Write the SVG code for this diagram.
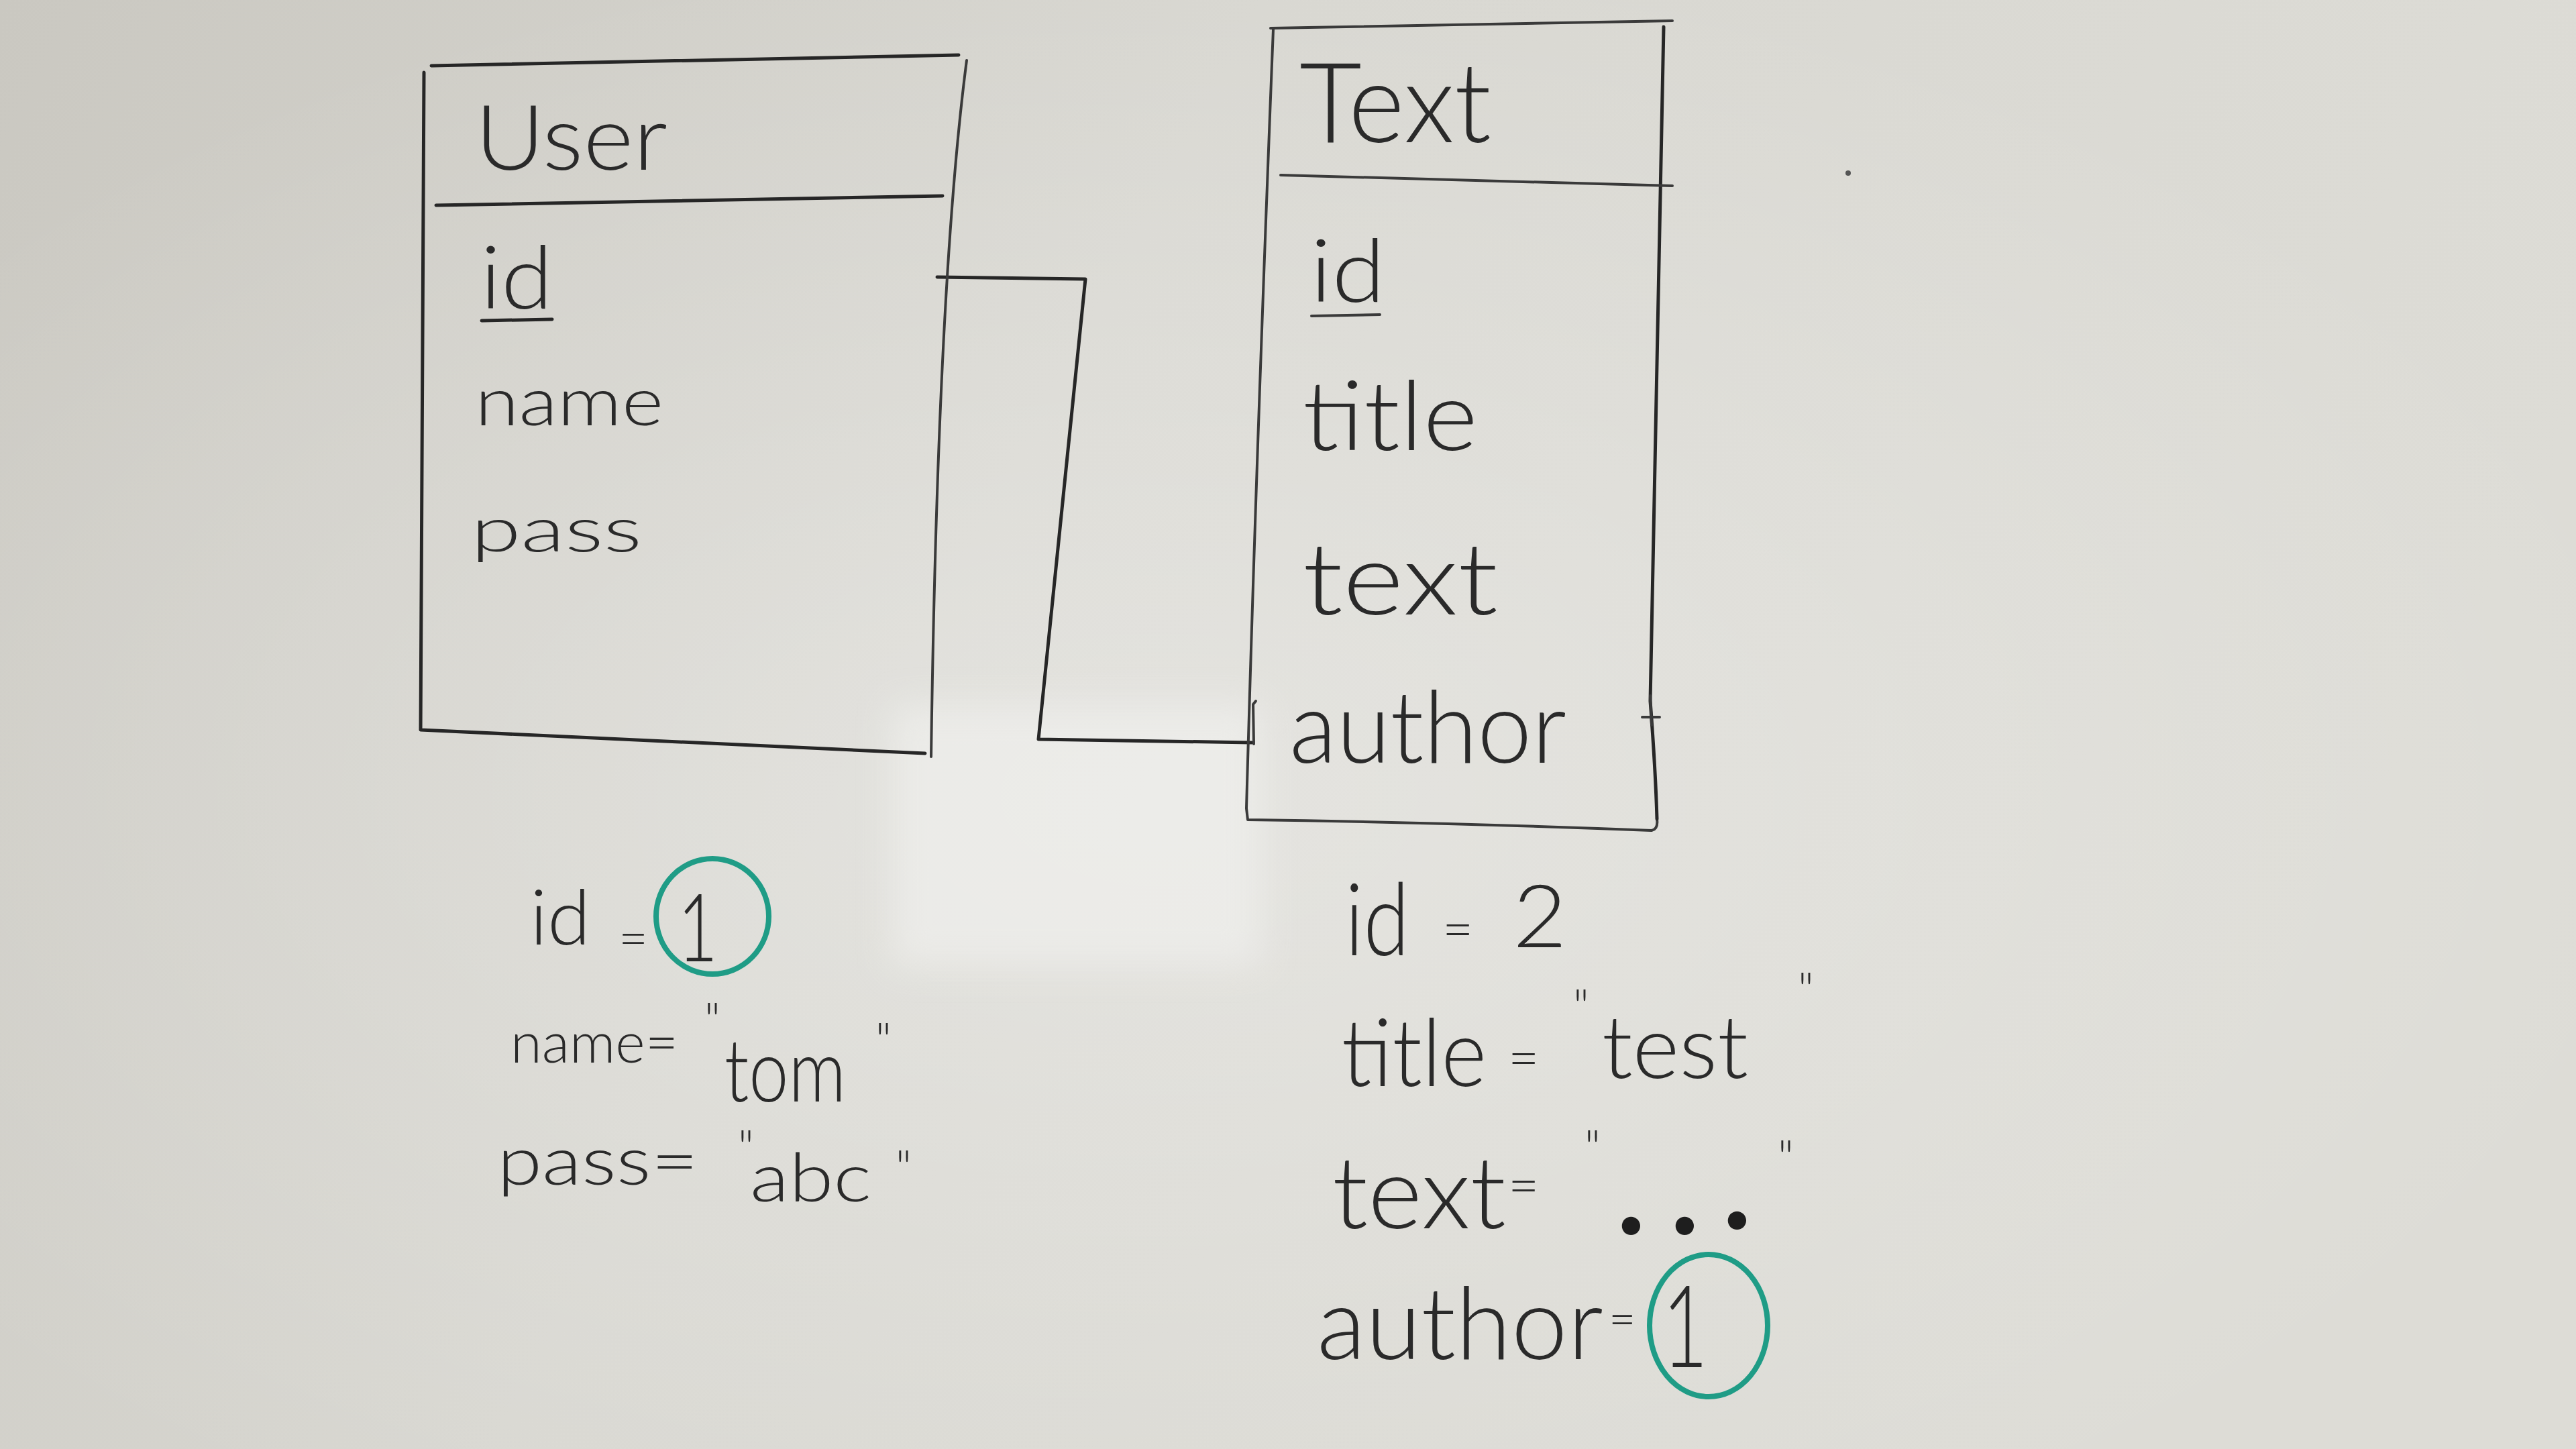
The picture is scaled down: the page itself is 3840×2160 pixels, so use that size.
<svg xmlns="http://www.w3.org/2000/svg" width="3840" height="2160" viewBox="0 0 3840 2160">
<defs>
<linearGradient id="board" x1="0" y1="0" x2="1" y2="0.3">
<stop offset="0" stop-color="#cac8c1"/>
<stop offset="0.45" stop-color="#d8d7d1"/>
<stop offset="1" stop-color="#dddcd6"/>
</linearGradient>
<radialGradient id="glow" cx="0.45" cy="0.55" r="0.6">
<stop offset="0" stop-color="#ffffff" stop-opacity="0.3"/>
<stop offset="1" stop-color="#ffffff" stop-opacity="0"/>
</radialGradient>
<filter id="blur" x="-20%" y="-20%" width="140%" height="140%"><feGaussianBlur stdDeviation="25"/></filter>
<style>
.ink{fill:none;stroke:#262626;stroke-width:5;stroke-linecap:round;stroke-linejoin:round}
.thin{fill:none;stroke:#3a3a3a;stroke-width:4;stroke-linecap:round;stroke-linejoin:round}
.teal{fill:none;stroke:#1f9c86;stroke-width:8}
.h{font-family:Lato,"Open Sans","Liberation Sans",sans-serif;font-weight:300;fill:#2a2a2a}
.q{font-size:70px}
.dot{font-size:180px;font-weight:700;fill:#1e1e1e}
</style>
</defs>
<rect width="3840" height="2160" fill="url(#board)"/>
<rect width="3840" height="2160" fill="url(#glow)"/>
<rect x="1330" y="1050" width="550" height="390" fill="#f2f2f0" opacity="0.6" filter="url(#blur)"/>
<circle cx="2755" cy="258" r="4" fill="#555"/>

<g id="connectors">
<path class="ink" d="M1397,413 L1618,416 L1548,1102 L1866,1107"/>
<path class="thin" d="M1872,1045 L1868,1050 L1869,1109"/>
</g>

<g id="user">
<path class="ink" d="M643,98 L1429,82"/>
<path class="ink" d="M632,108 L627,1088 L1379,1123"/>
<path class="thin" d="M1441,90 Q1398,420 1388,1128"/>
<path class="ink" d="M650,306 L1405,292"/>
<text class="h" x="708" y="253" font-size="135" textLength="287" lengthAdjust="spacingAndGlyphs">User</text>
<text class="h" x="716" y="460" font-size="130" textLength="108" lengthAdjust="spacingAndGlyphs">id</text>
<path class="ink" d="M718,478 L823,476"/>
<text class="h" x="708" y="634" font-size="100" textLength="281" lengthAdjust="spacingAndGlyphs">name</text>
<text class="h" x="702" y="822" font-size="92" textLength="255" lengthAdjust="spacingAndGlyphs">pass</text>
</g>

<g id="text">
<path class="thin" d="M1894,42 L2493,31"/>
<path class="thin" d="M1898,44 Q1872,700 1858,1205 L1860,1222 Q2160,1226 2462,1238 Q2472,1236 2470,1221"/>
<path class="ink" d="M2480,40 L2460,1045 Q2468,1150 2470,1221"/>
<path class="thin" d="M1909,261 L2493,277"/>
<path class="thin" d="M2460,1037 L2462,1081 M2448,1069 L2474,1069"/>
<text class="h" x="1937" y="212" font-size="165" textLength="286" lengthAdjust="spacingAndGlyphs">Text</text>
<text class="h" x="1953" y="450" font-size="130" textLength="112" lengthAdjust="spacingAndGlyphs">id</text>
<path class="thin" d="M1955,471 L2057,469"/>
<text class="h" x="1942" y="671" font-size="145" textLength="261" lengthAdjust="spacingAndGlyphs">title</text>
<text class="h" x="1942" y="916" font-size="150" textLength="291" lengthAdjust="spacingAndGlyphs">text</text>
<text class="h" x="1922" y="1137" font-size="150" textLength="413" lengthAdjust="spacingAndGlyphs">author</text>
</g>

<g id="user-values">
<text class="h" font-size="115"><tspan x="790" y="1408" textLength="90" lengthAdjust="spacingAndGlyphs">id</tspan><tspan x="922" y="1426" font-size="76">=</tspan></text>
<ellipse class="teal" cx="1062" cy="1366" rx="84" ry="86"/>
<text class="h" x="1010" y="1433" font-size="140" textLength="60" lengthAdjust="spacingAndGlyphs">1</text>
<text class="h" font-size="85"><tspan x="761" y="1584" textLength="250" lengthAdjust="spacingAndGlyphs">name=</tspan><tspan class="q" x="1050" y="1545">"</tspan><tspan x="1080" y="1642" font-size="130" textLength="181" lengthAdjust="spacingAndGlyphs">tom</tspan><tspan class="q" x="1305" y="1575">"</tspan></text>
<text class="h" font-size="100"><tspan x="741" y="1766" textLength="300" lengthAdjust="spacingAndGlyphs">pass=</tspan><tspan class="q" x="1100" y="1735">"</tspan><tspan x="1118" y="1791" textLength="181" lengthAdjust="spacingAndGlyphs">abc</tspan><tspan class="q" x="1335" y="1765">"</tspan></text>
</g>

<g id="text-values">
<text class="h" font-size="150"><tspan x="2005" y="1424" textLength="96" lengthAdjust="spacingAndGlyphs">id</tspan><tspan x="2150" y="1414" font-size="80">=</tspan><tspan x="2255" y="1412" font-size="130" textLength="81" lengthAdjust="spacingAndGlyphs">2</tspan></text>
<text class="h" font-size="140"><tspan x="2000" y="1619" textLength="216" lengthAdjust="spacingAndGlyphs">title</tspan><tspan x="2248" y="1606" font-size="80">=</tspan><tspan class="q" x="2345" y="1525">"</tspan><tspan x="2388" y="1607" font-size="130" textLength="218" lengthAdjust="spacingAndGlyphs">test</tspan><tspan class="q" x="2680" y="1500">"</tspan></text>
<text class="h" font-size="150"><tspan x="1986" y="1831" textLength="259" lengthAdjust="spacingAndGlyphs">text</tspan><tspan x="2248" y="1796" font-size="80">=</tspan><tspan class="q" x="2362" y="1735">"</tspan><tspan class="dot" x="2410 2490 2568" y="1840 1840 1832">...</tspan><tspan class="q" x="2650" y="1750">"</tspan></text>
<text class="h" font-size="150"><tspan x="1963" y="2026" textLength="427" lengthAdjust="spacingAndGlyphs">author</tspan><tspan x="2398" y="1991" font-size="70">=</tspan></text>
<ellipse class="teal" cx="2547" cy="1976" rx="88" ry="106"/>
<text class="h" x="2478" y="2038" font-size="170" textLength="68" lengthAdjust="spacingAndGlyphs">1</text>
</g>
</svg>
